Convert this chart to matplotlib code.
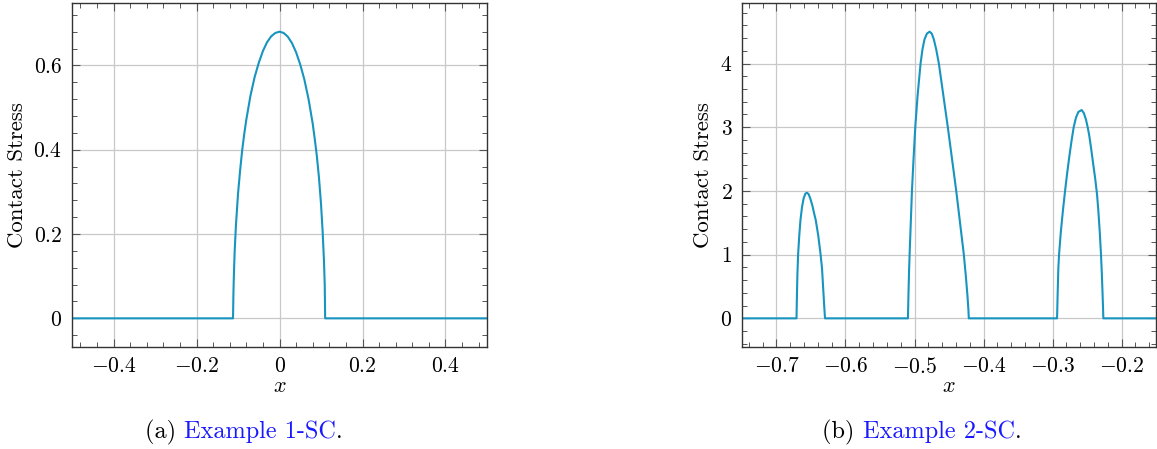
import numpy as np
import matplotlib.pyplot as plt
from matplotlib.ticker import MultipleLocator, FuncFormatter

plt.rcParams['font.family'] = 'cmr10'
plt.rcParams['mathtext.fontset'] = 'cm'
plt.rcParams['axes.formatter.use_mathtext'] = True
plt.rcParams['font.size'] = 15.5

# data
# (a) Example 1-SC
x1 = [-0.5, -0.112, -0.111, -0.110, -0.108, -0.105, -0.100, -0.095, -0.090, -0.085,
      -0.080, -0.070, -0.060, -0.050, -0.040, -0.030, -0.020, -0.010, 0.0,
      0.010, 0.020, 0.030, 0.040, 0.050, 0.060, 0.070, 0.080, 0.085, 0.090,
      0.095, 0.100, 0.104, 0.107, 0.109, 0.110, 0.5]
y1 = [0.0, 0.0, 0.06, 0.10, 0.16, 0.22, 0.295, 0.35, 0.398, 0.437,
      0.471, 0.528, 0.572, 0.606, 0.634, 0.655, 0.669, 0.677, 0.680,
      0.677, 0.668, 0.653, 0.631, 0.602, 0.566, 0.520, 0.462, 0.425, 0.385,
      0.335, 0.272, 0.205, 0.140, 0.08, 0.0, 0.0]

# (b) Example 2-SC
x2 = [-0.75,
      -0.671, -0.6705, -0.6698, -0.6687, -0.667, -0.6653, -0.663, -0.6605, -0.658, -0.6557,
      -0.6535, -0.651, -0.648, -0.6455, -0.6431, -0.6395, -0.6363, -0.634, -0.6325, -0.631,
      -0.6297,
      -0.5095, -0.5088, -0.5080, -0.5071, -0.5054, -0.5037, -0.5014, -0.4989, -0.4955, -0.4912,
      -0.4885, -0.4855, -0.4820, -0.4781, -0.4750, -0.4720, -0.4685, -0.4647, -0.4582, -0.4517,
      -0.4456, -0.4395, -0.4340, -0.4285, -0.4255, -0.4232, -0.4218, -0.4213,
      -0.2934, -0.2925, -0.2915, -0.2905, -0.2880, -0.2850, -0.2818, -0.2785, -0.2755, -0.2725,
      -0.2693, -0.2660, -0.2625, -0.2577, -0.2545, -0.2515, -0.2490, -0.2466, -0.2438, -0.2410,
      -0.2382, -0.2355, -0.2335, -0.2315, -0.2297, -0.2285, -0.2275, -0.2268, -0.2263,
      -0.15]
y2 = [0.0,
      0.0, 0.3, 0.65, 1.0, 1.3, 1.54, 1.75, 1.89, 1.96, 1.97,
      1.95, 1.88, 1.77, 1.65, 1.54, 1.30, 1.02, 0.78, 0.50, 0.22,
      0.0,
      0.0, 0.35, 0.7, 1.0, 1.5, 2.0, 2.5, 3.0, 3.5, 4.0,
      4.22, 4.38, 4.47, 4.50, 4.47, 4.38, 4.22, 4.0, 3.5, 3.0,
      2.5, 2.0, 1.5, 1.0, 0.65, 0.35, 0.12, 0.0,
      0.0, 0.4, 0.8, 1.0, 1.35, 1.68, 2.0, 2.3, 2.55, 2.78,
      3.0, 3.15, 3.24, 3.27, 3.22, 3.12, 3.00, 2.86, 2.65, 2.42,
      2.20, 1.95, 1.68, 1.35, 1.0, 0.7, 0.4, 0.18, 0.0,
      0.0]

line_color = '#1794bf'

fig = plt.figure(figsize=(11.57, 4.49), dpi=100)
ax1 = fig.add_axes([72/1157, 102/449, 415/1157, 344/449])
ax2 = fig.add_axes([742/1157, 102/449, 414/1157, 344/449])


def fmt(v, pos):
    if abs(v) < 1e-9:
        return r'$0$'
    return '$%g$' % v


def style(ax, xmaj, xmin, ymaj, ymin):
    ax.xaxis.set_major_locator(MultipleLocator(xmaj))
    ax.xaxis.set_minor_locator(MultipleLocator(xmin))
    ax.yaxis.set_major_locator(MultipleLocator(ymaj))
    ax.yaxis.set_minor_locator(MultipleLocator(ymin))
    ax.xaxis.set_major_formatter(FuncFormatter(fmt))
    ax.yaxis.set_major_formatter(FuncFormatter(fmt))
    ax.tick_params(which='both', direction='in', top=True, right=True, color='#555555')
    ax.tick_params(which='major', length=6, width=0.8, pad=7)
    ax.tick_params(which='minor', length=3.5, width=0.7)
    ax.grid(True, which='major', color='#c8c8c8', lw=0.9)
    ax.set_axisbelow(True)
    for s in ax.spines.values():
        s.set_color('#333333')
        s.set_linewidth(1.0)
    ax.set_xlabel('$x$', fontsize=16, labelpad=0)
    ax.set_ylabel('Contact Stress', fontsize=16.5, labelpad=5)


ax1.plot(x1, y1, color=line_color, lw=1.5)
ax1.set_xlim(-0.5, 0.5)
ax1.set_ylim(-0.068, 0.748)
style(ax1, 0.2, 0.04, 0.2, 0.04)

ax2.plot(x2, y2, color=line_color, lw=1.5)
ax2.set_xlim(-0.75, -0.15)
ax2.set_ylim(-0.45, 4.95)
style(ax2, 0.1, 0.02, 1, 0.2)

# captions: black tag, blue name, black period
blue = '#1a1aff'
cap_y = 1 - 432/449
renderer = fig.canvas.get_renderer()
for cx, tag, name in [(244, '(a) ', 'Example 1-SC'), (922, '(b) ', 'Example 2-SC')]:
    parts = [(tag, 'black'), (name, blue), ('.', 'black')]
    texts = [fig.text(0, cap_y, s, ha='left', va='center', color=c, fontsize=17.5)
             for s, c in parts]
    widths = [t.get_window_extent(renderer).width for t in texts]
    x = cx - sum(widths) / 2
    for t, w in zip(texts, widths):
        t.set_x(x / 1157)
        x += w

fig.savefig('out.png', dpi=100)
